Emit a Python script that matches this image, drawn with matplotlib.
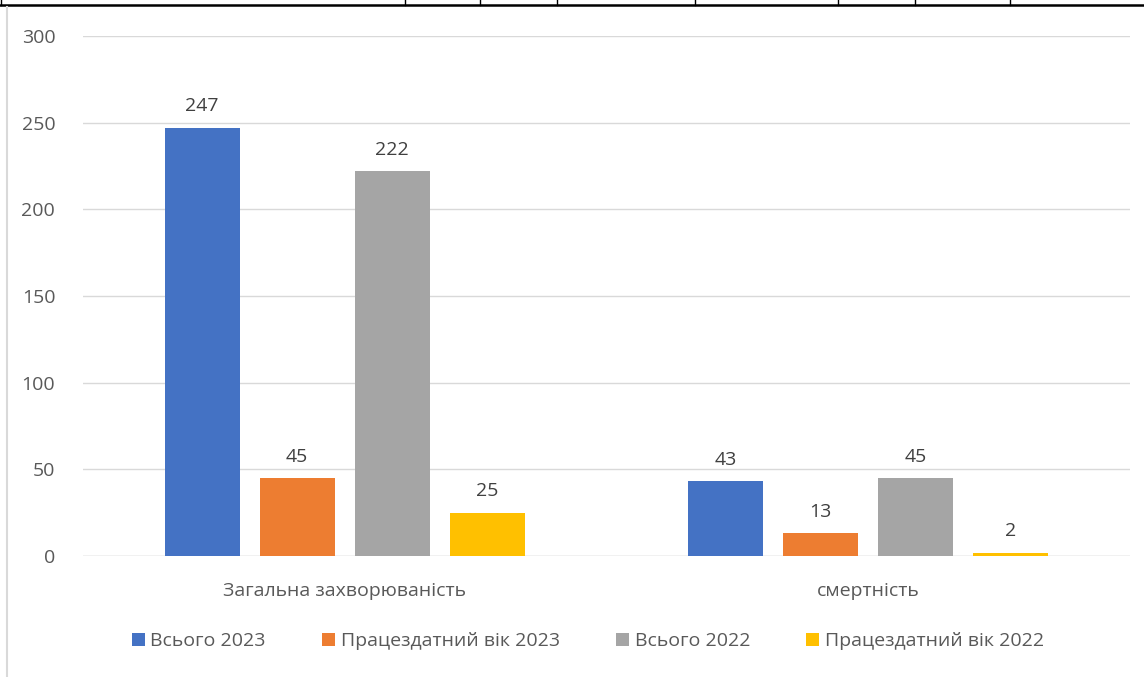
import matplotlib.pyplot as plt
from matplotlib.lines import Line2D
import numpy as np

plt.rcParams['font.family'] = ['Open Sans', 'DejaVu Sans']

categories = ["Загальна захворюваність", "смертність"]
series = ["Всього 2023", "Працездатний вік 2023", "Всього 2022", "Працездатний вік 2022"]
values = [
    [247, 43],
    [45, 13],
    [222, 45],
    [25, 2],
]
colors = ["#4472C4", "#ED7D31", "#A5A5A5", "#FFC000"]

W, H = 1144, 677
fig = plt.figure(figsize=(W / 100, H / 100), dpi=100)
ax = fig.add_axes([83 / W, 1 - 556 / H, (1130 - 83) / W, (556 - 36) / H])

x = np.arange(len(categories))
width = 0.143
step = 0.1815
fs = 14
for i, (name, vals) in enumerate(zip(series, values)):
    pos = x + (i - 1.5) * step
    bars = ax.bar(pos, vals, width, color=colors[i], label=name, zorder=3)
    for b, v in zip(bars, vals):
        ax.annotate(str(v), (b.get_x() + b.get_width() / 2, v),
                    xytext=(0, 9), textcoords="offset points",
                    ha="center", va="bottom", fontsize=fs, color="#404040")

ax.set_xlim(-0.5, 1.5)
ax.set_ylim(0, 300)
ax.set_yticks(range(0, 301, 50))
ax.grid(axis="y", color="#D9D9D9", linewidth=1, zorder=0)
for s in ax.spines.values():
    s.set_visible(False)
ax.tick_params(axis="y", length=0, pad=20, labelsize=fs, labelcolor="#595959")
ax.tick_params(axis="x", length=0, pad=19, labelsize=fs, labelcolor="#595959")
ax.set_xticks(x)
ax.set_xticklabels(categories)
ax.axhline(0, color="#D9D9D9", linewidth=1, zorder=2)

fig.legend(loc="center", bbox_to_anchor=(0.514, 1 - 641 / H), ncol=4, frameon=False,
           fontsize=fs, labelcolor="#595959", handlelength=0.65, handleheight=0.65,
           handletextpad=0.3, columnspacing=2.9)

# table border fragment at top and frame line at left
fig.add_artist(Line2D([0, 1], [1 - 5 / H, 1 - 5 / H], color="black", linewidth=1.8))
for px in [1, 405, 480, 557, 695, 838, 915, 1010]:
    fig.add_artist(Line2D([px / W, px / W], [1, 1 - 5 / H], color="black", linewidth=1))
fig.add_artist(Line2D([7 / W, 7 / W], [0, 1 - 7 / H], color="#D9D9D9", linewidth=1.5))

fig.savefig("out.png", dpi=100)
